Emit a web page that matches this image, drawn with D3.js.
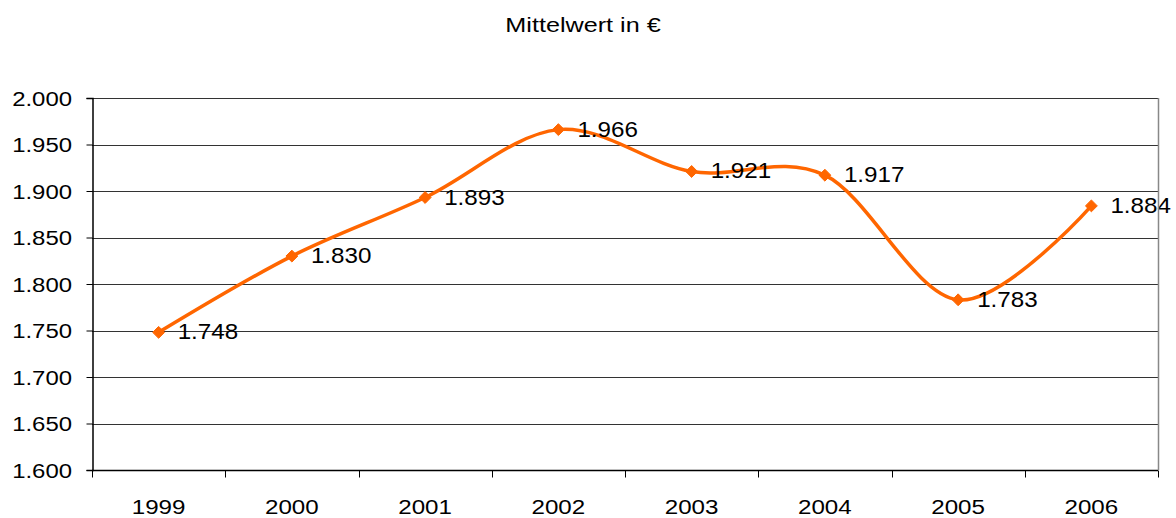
<!DOCTYPE html>
<html lang="de">
<head>
    <meta charset="UTF-8">
    <title>Mittelwert in €</title>
    <script src="https://d3js.org/d3.v7.min.js"></script>
    <style>
        html, body {
            margin: 0;
            padding: 0;
            background: #fff;
            overflow: hidden;
        }
        text {
            font-family: "Liberation Sans", Arial, sans-serif;
            fill: #000;
        }
    </style>
</head>
<body>
    <svg id="chart" width="1176" height="518"></svg>
    <script>
        // data
        const years = ["1999", "2000", "2001", "2002", "2003", "2004", "2005", "2006"];
        const values = [1748, 1830, 1893, 1966, 1921, 1917, 1783, 1884];
        const yTicks = [1600, 1650, 1700, 1750, 1800, 1850, 1900, 1950, 2000];

        const svg = d3.select("#chart");
        const margin = {left: 92, right: 18, top: 98, bottom: 48};
        const width = 1176, height = 518;

        const fmt = v => d3.format(".3f")(v / 1000);

        // the original text is a bit wider than Arial, so stretch it sideways
        function place(sel, fx, fy, sx) {
            sel.attr("transform", (d, i) => `translate(${fx(d, i)},${fy(d, i)}) scale(${sx},1)`);
        }

        const x = d3.scaleBand()
            .domain(years)
            .range([margin.left, width - margin.right]);

        const y = d3.scaleLinear()
            .domain([1600, 2000])
            .range([height - margin.bottom, margin.top]);

        // title
        svg.append("text")
            .attr("text-anchor", "middle")
            .style("font-size", "21px")
            .text("Mittelwert in €")
            .call(place, () => 583, () => 32, 1.2);

        // gridlines
        svg.append("g")
            .selectAll("line")
            .data(yTicks)
            .join("line")
            .attr("x1", margin.left)
            .attr("x2", width - margin.right)
            .attr("y1", d => Math.round(y(d)) + 0.5)
            .attr("y2", d => Math.round(y(d)) + 0.5)
            .attr("stroke", "#333")
            .attr("stroke-width", 1);

        // right border
        svg.append("line")
            .attr("class", "right-border")
            .attr("x1", width - margin.right + 0.5)
            .attr("x2", width - margin.right + 0.5)
            .attr("y1", margin.top)
            .attr("y2", height - margin.bottom)
            .attr("stroke", "#888")
            .attr("stroke-width", 1.5);

        // y axis
        const yAxis = svg.append("g")
            .attr("transform", `translate(${margin.left + 0.5},0)`)
            .call(d3.axisLeft(y).tickValues(yTicks).tickFormat("").tickSize(6));
        yAxis.select(".domain").attr("stroke", "#000").attr("stroke-width", 1.5);
        yAxis.selectAll(".tick line").attr("stroke", "#000");

        svg.append("g")
            .selectAll("text")
            .data(yTicks)
            .join("text")
            .attr("text-anchor", "end")
            .style("font-size", "21px")
            .text(d => fmt(d))
            .call(place, () => 72, d => y(d) + 7.5, 1.14);

        // x axis: ticks sit between categories
        const xAxis = svg.append("g")
            .attr("transform", `translate(0,${height - margin.bottom + 0.5})`);
        xAxis.append("line")
            .attr("x1", margin.left)
            .attr("x2", width - margin.right)
            .attr("stroke", "#000")
            .attr("stroke-width", 1.5);
        const bounds = years.map(d => x(d)).concat([x.range()[1]]);
        xAxis.selectAll("line.tk")
            .data(bounds)
            .join("line")
            .attr("class", "tk")
            .attr("x1", d => Math.round(d) + 0.5)
            .attr("x2", d => Math.round(d) + 0.5)
            .attr("y1", 0)
            .attr("y2", 7)
            .attr("stroke", "#000");
        xAxis.selectAll("text")
            .data(years)
            .join("text")
            .attr("text-anchor", "middle")
            .style("font-size", "21px")
            .text(d => d)
            .call(place, d => x(d) + x.bandwidth() / 2, () => 43, 1.15);

        const pts = years.map((d, i) => [x(d) + x.bandwidth() / 2, y(values[i])]);

        // smoothed line
        svg.append("path")
            .datum(pts)
            .attr("fill", "none")
            .attr("stroke", "#FF6600")
            .attr("stroke-width", 3.5)
            .attr("stroke-linejoin", "round")
            .attr("d", d3.line().curve(d3.curveCatmullRom.alpha(0)));

        // diamond markers
        svg.append("g")
            .selectAll("path")
            .data(pts)
            .join("path")
            .attr("transform", d => `translate(${d[0]},${d[1]})`)
            .attr("d", d3.symbol(d3.symbolDiamond2, 90))
            .attr("fill", "#FF6600")
            .attr("stroke", "#FF6600")
            .attr("stroke-width", 1);

        // value labels
        svg.append("g")
            .selectAll("text")
            .data(values)
            .join("text")
            .style("font-size", "22px")
            .text(d => fmt(d))
            .call(place, (d, i) => pts[i][0] + 19, (d, i) => pts[i][1] + 7, 1.1);

        svg.select(".right-border").raise();
    </script>
</body>
</html>
